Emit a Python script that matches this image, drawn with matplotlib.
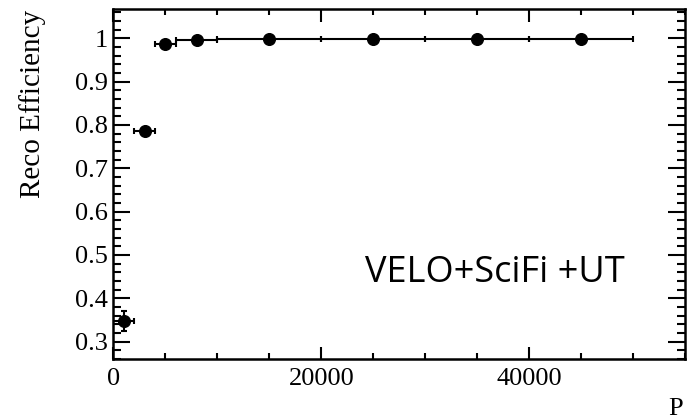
import numpy as np
import matplotlib.pyplot as plt
from matplotlib.ticker import MultipleLocator, FixedLocator

# momentum bins (MeV) and reconstruction efficiency
p_center = [1000, 3000, 5000, 8000, 15000, 25000, 35000, 45000]
p_halfwidth = [1000, 1000, 1000, 2000, 5000, 5000, 5000, 5000]
efficiency = [0.348, 0.787, 0.986, 0.997, 0.999, 0.999, 0.999, 0.999]
eff_err = [0.023, 0.004, 0.002, 0.001, 0.0005, 0.0005, 0.0005, 0.0005]
x_ticks = [0, 20000, 40000]
x_ticklabels = ['0', '20000', '40000']
y_ticks = [0.3, 0.4, 0.5, 0.6, 0.7, 0.8, 0.9, 1.0]
y_ticklabels = ['0.3', '0.4', '0.5', '0.6', '0.7', '0.8', '0.9', '1']

serif = 'Liberation Serif'

fig = plt.figure(figsize=(6.87, 4.2), dpi=100)
ax = fig.add_axes([113.3 / 687, 60.7 / 420, 572 / 687, 350 / 420])

ax.errorbar(p_center, efficiency, xerr=p_halfwidth, yerr=eff_err,
            fmt='o', color='black', markersize=8.4, elinewidth=1.5,
            capsize=2.5, capthick=1.5)

ax.set_xlim(0, 55000)
ax.set_ylim(0.259, 1.067)

ax.xaxis.set_major_locator(FixedLocator(x_ticks))
ax.set_xticklabels(x_ticklabels)
ax.xaxis.set_minor_locator(MultipleLocator(5000))
ax.yaxis.set_major_locator(FixedLocator(y_ticks))
ax.set_yticklabels(y_ticklabels)
ax.yaxis.set_minor_locator(MultipleLocator(0.02))

ax.tick_params(which='both', direction='in', top=True, right=True, width=1.5)
ax.tick_params(axis='x', which='major', length=9, pad=6)
ax.tick_params(axis='x', which='minor', length=4.5)
ax.tick_params(axis='y', which='major', length=12, pad=4)
ax.tick_params(axis='y', which='minor', length=6)

for lab in ax.get_xticklabels() + ax.get_yticklabels():
    lab.set_fontfamily(serif)
    lab.set_fontsize(19)

for sp in ax.spines.values():
    sp.set_linewidth(1.8)

fig.text(33 / 687, 1 - 10 / 420, 'Reco Efficiency', rotation=90,
         ha='center', va='top', fontsize=21, family=serif)
fig.text(668 / 687, 1 - 415 / 420, 'P', ha='left', va='baseline',
         fontsize=19, family=serif)

fig.text(495 / 687, 1 - 282 / 420, 'VELO+SciFi +UT', ha='center',
         va='baseline', fontsize=26, family='Open Sans')

fig.savefig('out.png', dpi=100)
